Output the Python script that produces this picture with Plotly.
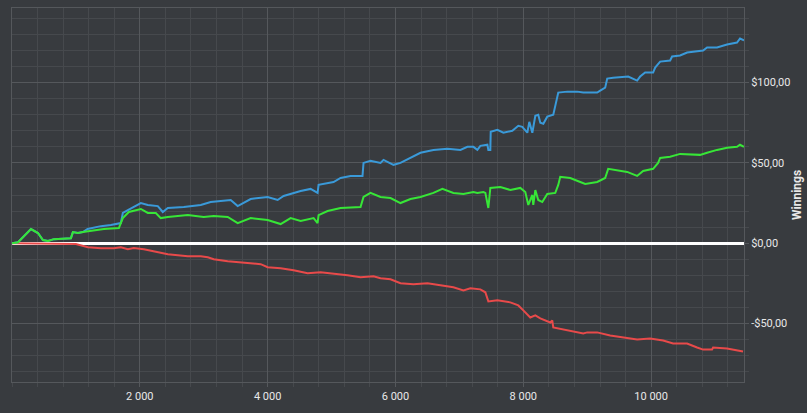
import plotly.graph_objects as go

# Hands played (x) and cumulative winnings in $ (y)
blue_x = [0, 94, 297, 406, 484, 563, 656, 922, 953, 1031, 1109, 1183, 1391, 1547, 1703, 1734, 1813,
          2016, 2125, 2281, 2359, 2438, 2688, 2953, 3109, 3266, 3422, 3531, 3625, 3734, 4000, 4156,
          4250, 4391, 4516, 4672, 4781, 4797, 4938, 5031, 5141, 5297, 5484, 5500, 5609, 5766, 5813,
          5969, 6078, 6234, 6391, 6594, 6813, 7016, 7125, 7219, 7281, 7328, 7438, 7453, 7484, 7490,
          7594, 7688, 7828, 7922, 7984, 8063, 8094, 8141, 8188, 8234, 8266, 8313, 8375, 8469, 8500,
          8547, 8688, 8844, 8938, 9156, 9203, 9281, 9313, 9406, 9641, 9781, 9828, 9906, 10031, 10063,
          10141, 10297, 10328, 10453, 10563, 10719, 10813, 10875, 11031, 11188, 11344, 11391, 11453]
blue_y = [0, 0.6, 8.8, 6.3, 1.9, 1.3, 2.5, 3.1, 6.9, 6.3, 6.9, 8.8, 10.6, 11.3, 12.5, 18.8, 20.6,
          25.0, 23.8, 23.1, 19.4, 21.9, 22.5, 23.8, 25.6, 26.3, 26.9, 23.1, 25.0, 27.5, 28.8, 26.9,
          29.4, 31.3, 32.5, 33.8, 31.3, 36.3, 37.5, 38.1, 40.6, 41.9, 41.9, 50.0, 51.3, 50.0, 51.9,
          48.8, 50.0, 53.1, 56.3, 58.1, 58.8, 58.1, 60.0, 60.0, 58.1, 60.6, 61.3, 58.1, 58.1, 69.4,
          70.6, 68.8, 70.0, 73.1, 72.5, 68.8, 75.6, 68.8, 79.4, 80.0, 75.0, 74.4, 78.8, 80.0, 85.0,
          93.8, 94.4, 94.4, 93.8, 93.8, 95.0, 96.9, 102.5, 103.1, 103.8, 101.3, 103.8, 106.3, 106.3, 109.4,
          113.1, 113.8, 116.3, 116.9, 118.8, 119.4, 120.0, 121.9, 121.9, 123.8, 125.0, 127.5, 126.3]

green_x = [0, 94, 297, 406, 484, 563, 656, 922, 953, 1031, 1109, 1281, 1438, 1672, 1734, 1828, 2016,
           2125, 2250, 2328, 2438, 2750, 3000, 3156, 3375, 3531, 3734, 4000, 4203, 4359, 4516, 4719,
           4781, 4797, 4938, 5141, 5453, 5500, 5609, 5766, 5922, 6078, 6234, 6391, 6594, 6734, 6906,
           7063, 7219, 7281, 7375, 7406, 7453, 7484, 7641, 7797, 7953, 8031, 8078, 8141, 8156, 8188,
           8234, 8297, 8375, 8500, 8547, 8578, 8734, 8891, 8969, 9156, 9281, 9328, 9469, 9625, 9781,
           9875, 10031, 10109, 10141, 10297, 10453, 10766, 10875, 11031, 11188, 11344, 11391, 11453]
green_y = [0, 0.6, 8.8, 6.3, 1.9, 1.3, 2.5, 3.1, 6.9, 6.3, 6.9, 8.1, 8.8, 9.4, 15.6, 19.4, 21.3,
           18.8, 18.8, 15.6, 16.3, 17.5, 16.3, 16.9, 16.3, 12.5, 15.6, 14.4, 11.9, 15.6, 13.8, 15.6,
           12.5, 17.5, 20.0, 21.9, 22.5, 28.8, 31.3, 28.8, 28.1, 25.0, 27.5, 28.8, 31.3, 33.8, 31.3,
           30.6, 31.9, 31.3, 31.9, 31.3, 21.9, 34.4, 35.0, 33.1, 34.4, 31.9, 23.8, 30.0, 23.8, 33.1,
           26.9, 25.6, 30.6, 31.3, 36.3, 41.3, 40.6, 38.1, 36.9, 38.1, 40.6, 46.3, 45.6, 44.4, 41.9,
           45.0, 46.3, 50.0, 53.1, 53.8, 55.6, 55.0, 56.3, 58.1, 59.4, 60.0, 61.3, 60.0]

red_x = [0, 500, 1000, 1188, 1391, 1594, 1703, 1813, 1906, 2063, 2328, 2438, 2750, 2953, 3063, 3156,
         3375, 3531, 3625, 3891, 4000, 4203, 4406, 4625, 4828, 5031, 5250, 5453, 5656, 5766, 5922,
         6078, 6281, 6500, 6703, 6906, 7063, 7172, 7328, 7406, 7453, 7594, 7797, 7922, 8000, 8109,
         8188, 8266, 8422, 8453, 8469, 8688, 8938, 9000, 9156, 9359, 9563, 9781, 9984, 10188, 10344,
         10563, 10719, 10813, 10953, 10969, 11188, 11438]
red_y = [0, -0.3, -0.6, -2.5, -3.1, -3.1, -2.5, -3.8, -3.1, -3.8, -6.3, -6.9, -8.1, -8.1, -8.8, -10.0,
         -11.3, -11.9, -12.5, -13.1, -15.0, -15.6, -16.9, -18.8, -18.1, -18.8, -20.0, -21.3, -20.6, -21.9, -22.5,
         -25.0, -25.6, -25.0, -26.3, -27.5, -29.4, -28.1, -28.8, -30.6, -36.3, -35.6, -36.9, -38.8, -41.9, -46.3,
         -45.0, -46.9, -49.4, -48.1, -52.5, -54.4, -56.3, -55.6, -55.6, -57.5, -58.8, -60.0, -59.4, -60.6, -62.5,
         -62.5, -65.0, -66.3, -66.3, -65.0, -65.6, -67.5]

x_ticks = [2000, 4000, 6000, 8000, 10000]
y_ticks = [-50, 0, 50, 100]
y_tick_labels = ["-$50,00", "$0,00", "$50,00", "$100,00"]
y_title = "Winnings"

BG = "#383b3f"
GRID_MINOR = "#46494d"
GRID_MAJOR = "#55585c"
TXT = "#e8e8e8"
FONT = "Liberation Sans Narrow, Roboto, sans-serif"

fig = go.Figure()
fig.add_trace(go.Scatter(x=red_x, y=red_y, mode="lines", line=dict(color="#e84a4a", width=2)))
fig.add_trace(go.Scatter(x=blue_x, y=blue_y, mode="lines", line=dict(color="#3a9ad9", width=2)))
fig.add_trace(go.Scatter(x=green_x, y=green_y, mode="lines", line=dict(color="#37e637", width=2)))

fig.update_layout(
    width=807, height=413,
    paper_bgcolor=BG, plot_bgcolor=BG,
    margin=dict(l=12, r=63, t=8, b=31, autoexpand=False),
    showlegend=False,
    separators=", ",
    font=dict(family=FONT, size=11, color=TXT),
    xaxis=dict(
        range=[0, 11453], tickvals=x_ticks, tickformat=",d",
        showgrid=True, gridcolor=GRID_MAJOR, gridwidth=1,
        ticks="outside", ticklen=4, tickcolor=GRID_MAJOR,
        showline=True, linecolor=GRID_MAJOR, mirror=True,
        zeroline=False,
        minor=dict(tick0=0, dtick=400, showgrid=True, gridcolor=GRID_MINOR,
                   ticks="outside", ticklen=4, tickcolor=GRID_MINOR),
        tickfont=dict(family=FONT, size=11, color=TXT),
    ),
    yaxis=dict(
        range=[-86.5, 146.5], side="right", tickvals=y_ticks, ticktext=y_tick_labels,
        showgrid=True, gridcolor=GRID_MAJOR, gridwidth=1,
        ticks="outside", ticklen=4, tickcolor=GRID_MAJOR,
        showline=True, linecolor=GRID_MAJOR, mirror=True,
        zeroline=True, zerolinecolor="#ffffff", zerolinewidth=3,
        minor=dict(tick0=0, dtick=10, showgrid=True, gridcolor=GRID_MINOR,
                   ticks="outside", ticklen=4, tickcolor=GRID_MINOR),
        tickfont=dict(family=FONT, size=11, color=TXT),
    ),
)

fig.add_annotation(
    text="<b>" + y_title + "</b>", xref="paper", yref="paper", x=1.0724, y=0.5,
    textangle=-90, showarrow=False, xanchor="center", yanchor="middle",
    font=dict(family=FONT, size=12, color=TXT),
)

fig.write_html("out.html", config={"displayModeBar": False},
               post_script="document.body.style.margin='0';document.body.style.padding='0';")
